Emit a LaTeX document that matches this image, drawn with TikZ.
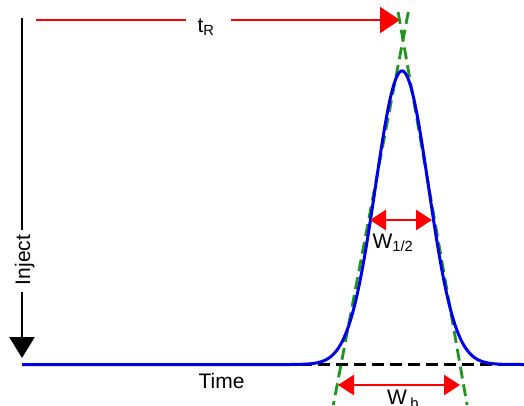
\documentclass[tikz,border=0pt]{standalone}
\usepackage{fontspec}
\setmainfont{Liberation Sans}
\usetikzlibrary{arrows.meta}
\definecolor{pkblue}{RGB}{0,0,235}
\definecolor{pkred}{RGB}{255,0,0}
\definecolor{pkgreen}{RGB}{30,150,30}
\tikzset{
  redline/.style={draw=pkred, line width=2.6pt},
  redarrow/.style={redline, -{Triangle[length=20pt,width=26pt]}},
  dimarrow/.style={redline, {Triangle[length=16pt,width=20pt]}-{Triangle[length=16pt,width=20pt]}},
  blackline/.style={draw=black, line width=2.6pt},
  blackarrow/.style={blackline, -{Triangle[length=21pt,width=25pt]}},
  greendash/.style={draw=pkgreen, line width=2.8pt, dash pattern=on 12pt off 6pt},
  blackdash/.style={draw=black, line width=2.2pt, dash pattern=on 12pt off 6pt},
  peakline/.style={draw=pkblue, line width=3pt, line join=round},
  lbl/.style={font=\fontsize{21}{24}\selectfont, inner sep=0pt, anchor=base}
}
\begin{document}
\begin{tikzpicture}[x=1pt,y=-1pt]
\useasboundingbox (0,0) rectangle (524,405);
% coordinates
\coordinate (injTop) at (22,18);
\coordinate (injGapA) at (22,230);
\coordinate (injGapB) at (22,292);
\coordinate (injTip) at (22,358);
\coordinate (trStart) at (36,20);
\coordinate (trGapA) at (186,20);
\coordinate (trGapB) at (231,20);
\coordinate (trTip) at (400,20);
\coordinate (baseA) at (22,364.5);
\coordinate (baseB) at (290,364.5);
\coordinate (baseD) at (524,364.5);
\coordinate (dashA) at (300,364.5);
\coordinate (gLtop) at (408.3,12);
\coordinate (gLbot) at (333.3,405);
\coordinate (gRtop) at (398.1,12);
\coordinate (gRbot) at (467.1,405);
\coordinate (hL) at (370,220);
\coordinate (hR) at (432,220);
\coordinate (bL) at (338,385);
\coordinate (bR) at (460,385);
% labels
\node[lbl] (tR) at (206,32) {t\textsubscript{R}};
\node[lbl, rotate=90] (inject) at (30,260) {Inject};
\node[lbl] (time) at (221.5,388) {Time};
\node[lbl] (whalf) at (393,248) {W\textsubscript{1/2}};
\node[lbl] (wb) at (403,404.5) {W\,\textsubscript{b}};
% inject arrow
\draw[blackline] (injTop) -- (injGapA);
\draw[blackarrow] (injGapB) -- (injTip);
% retention time arrow
\draw[redline] (trStart) -- (trGapA);
\draw[redarrow] (trGapB) -- (trTip);
% baseline dashes
\draw[blackdash] (dashA) -- (baseD);
% tangents
\draw[greendash] (gLtop) -- (gLbot);
\draw[greendash] (gRtop) -- (gRbot);
% peak
\draw[peakline] (baseA) -- (baseB)
  -- plot[domain=290:514, samples=220, smooth] (\x, {364.5 - 293.5*exp(-0.5*((\x-402)/26.5)^2)})
  -- (baseD);
% widths
\draw[dimarrow] (hL) -- (hR);
\draw[dimarrow] (bL) -- (bR);
\end{tikzpicture}
\end{document}
